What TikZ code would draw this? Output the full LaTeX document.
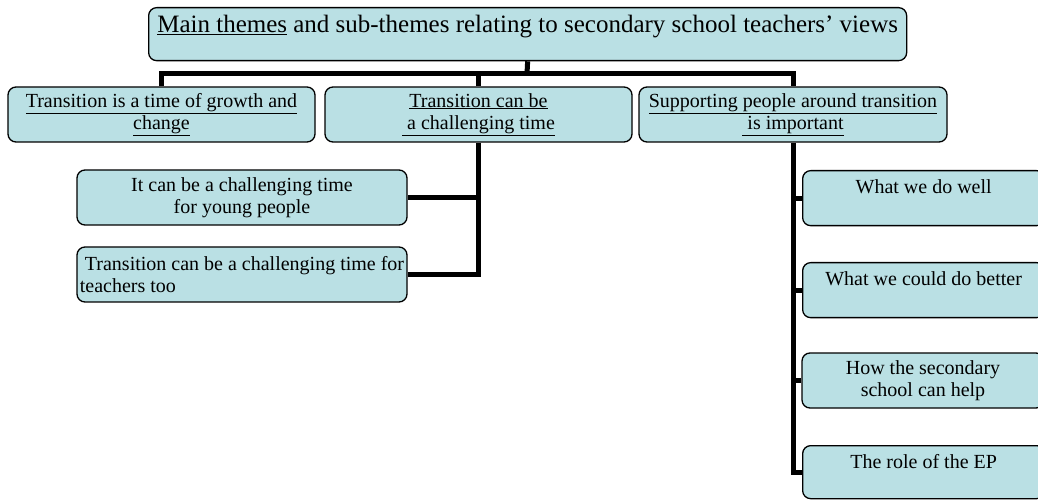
\documentclass[tikz,border=0pt]{standalone}
\usepackage{fontspec}
\setmainfont{Liberation Serif}
\usetikzlibrary{backgrounds}
\definecolor{boxfill}{RGB}{186,224,228}
\begin{document}
\begin{tikzpicture}[x=1pt,y=-1pt,
  box/.style={draw=black, line width=1.3pt, rounded corners=8pt, fill=boxfill, inner sep=0pt, align=center, font=\rmfamily\fontsize{20}{22.5}\selectfont},
  conn/.style={line width=5pt, line join=miter, draw=black}]
\useasboundingbox (0,0) rectangle (1038,502);
\clip (0,0) rectangle (1038,502);
% top
\node[box, anchor=north west, minimum width=758pt, text height=25pt, text depth=28pt, font=\rmfamily\fontsize{25}{28}\selectfont] (top) at (148,7)
  {\underline{Main themes} and sub-themes relating to secondary school teachers’ views};
% level 2
\node[box, minimum width=307pt, minimum height=55pt] (A) at (161.5,114.5)
  {\underline{Transition is a time of growth and}\\\underline{change}};
\node[box, minimum width=307pt, minimum height=55pt] (B) at (478.5,114.5)
  {\underline{Transition can be}\\\underline{\ a challenging time}};
\node[box, minimum width=308pt, minimum height=55pt] (S) at (793,114.5)
  {\underline{Supporting people around transition}\\\underline{\ is important}};
% level 3 left
\node[box, minimum width=330pt, minimum height=55pt] (C) at (242,197.5)
  {It can be a challenging time\\for young people};
\node[box, align=left, minimum width=330pt, minimum height=55pt] (D) at (242,274.5)
  {\ Transition can be a challenging time for\\teachers too};
% level 3 right
\node[box, anchor=north west, minimum width=242pt, text height=23pt, text depth=32pt] (R1) at (802,170) {What we do well};
\node[box, anchor=north west, minimum width=242pt, text height=23pt, text depth=32pt] (R2) at (802,262) {What we could do better};
\node[box, minimum width=242pt, minimum height=55pt] (R3) at (923,380.5) {How the secondary\\school can help};
\node[box, anchor=north west, minimum width=242pt, text height=23pt, text depth=30pt] (R4) at (802,445) {The role of the EP};
% connectors
\begin{pgfonlayer}{background}
\coordinate (bar) at (527,73.5);
\draw[conn] (top.south) -- (bar);
\draw[conn] (A.north) |- (bar) -| (S.north);
\draw[conn] (B.north) -- (B.north |- bar);
\draw[conn] (B.south) |- (D.east);
\draw[conn] (C.east) -- (C.east -| B.south);
\draw[conn] (S.south) |- (R4.west);
\foreach \r in {R1,R2,R3} \draw[conn] (\r.west) -- (\r.west -| S.south);
\end{pgfonlayer}
\end{tikzpicture}
\end{document}
